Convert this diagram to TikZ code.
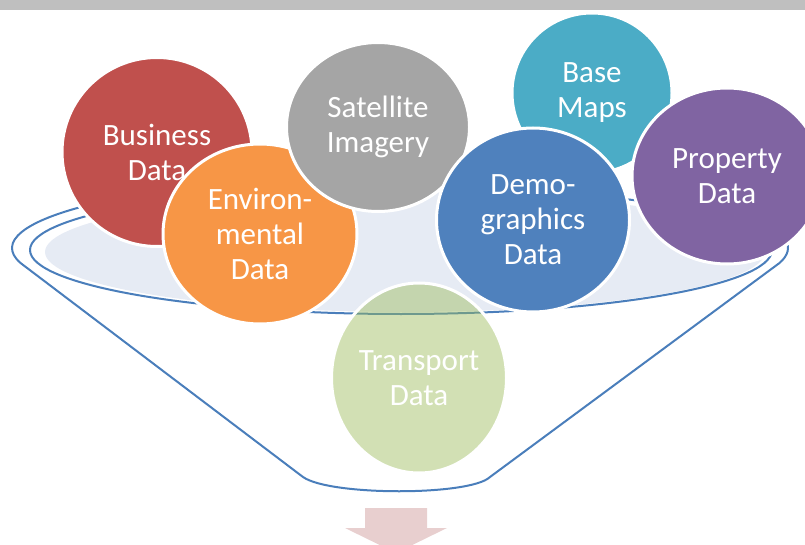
\documentclass[tikz,border=0pt]{standalone}
\usepackage{fontspec}
\setmainfont{Carlito}
\usetikzlibrary{shapes.geometric}

\definecolor{barGray}{HTML}{BFBFBF}
\definecolor{funnelBlue}{HTML}{4A7EBB}
\definecolor{rimFill}{HTML}{E6EBF4}
\definecolor{arrowPink}{HTML}{E8CFCF}
\definecolor{busRed}{HTML}{C0504D}
\definecolor{envOrange}{HTML}{F79646}
\definecolor{satGray}{HTML}{A5A5A5}
\definecolor{mapTeal}{HTML}{4BACC6}
\definecolor{demoBlue}{HTML}{4F81BD}
\definecolor{propPurple}{HTML}{8064A2}
\definecolor{transGreen}{HTML}{9BBB59}

\begin{document}
\begin{tikzpicture}
[x=1pt,y=-1pt,%
  bubble/.style={shape=ellipse,inner sep=0pt,draw=white,line width=3pt,text=white,align=center,font=\fontsize{31}{35}\selectfont},%
  funnelLine/.style={draw=funnelBlue,line width=2pt,line join=round}]
\clip (0,0) rectangle (805,545);
\fill[barGray] (0,0) rectangle (805,10);
%% funnel
\fill[rimFill] (405,252) ellipse [x radius=360, y radius=60];
\draw[funnelLine] (401,250) ellipse [x radius=371, y radius=64];
\draw[funnelLine] (400,248) ++(218:388 and 72)
  arc[start angle=218, end angle=168, x radius=388, y radius=72]
  -- (303,477) .. controls (330,496) and (470,496) .. (490,477)
  -- (779.5,263) arc[start angle=12, end angle=-25, x radius=388, y radius=72];
%% output arrow
\fill[arrowPink] (365,508) -- (427,508) -- (427,528) -- (447,528) -- (396,553)
  -- (345,528) -- (365,528) -- cycle;
%% data bubbles
\node (transport) at (419,378) [bubble,fill=transGreen,fill opacity=0.45,text opacity=1,
  minimum width=175pt,minimum height=190pt] {Transport\\Data};
\foreach \name/\x/\y/\w/\h/\col/\txt in {%
  business/157/152/190/189/busRed/{Business\\Data},
  environ/260/234/194/180/envOrange/{Environ-\\mental\\Data},
  satellite/378/127/183/169/satGray/{Satellite\\Imagery},
  basemaps/592/93/160/160/mapTeal/{Base\\Maps},
  demo/533/220/193/184/demoBlue/{Demo-\\graphics\\Data},
  property/727/176/190/176/propPurple/{Property\\Data}}
{
  \node (\name) at (\x,\y) [bubble,fill=\col,minimum width=\w pt,minimum height=\h pt] {\txt};
}
\end{tikzpicture}
\end{document}
